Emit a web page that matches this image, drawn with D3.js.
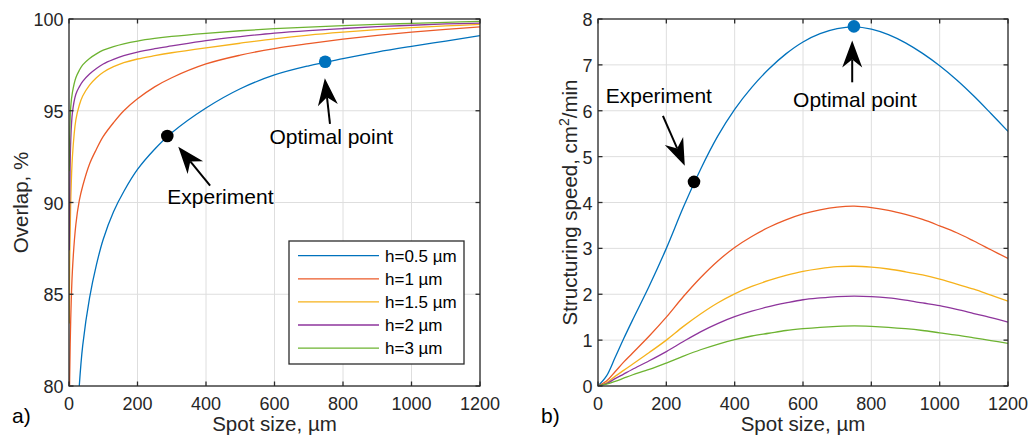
<!DOCTYPE html>
<html><head><meta charset="utf-8">
<script src="https://cdn.jsdelivr.net/npm/d3@7"></script>
<style>
body{margin:0;background:#fff}
svg{display:block}
text{font-family:"Liberation Sans",Arial,Helvetica,sans-serif}
</style>
</head><body>
<svg id="chart" width="1032" height="439"></svg>
<script>
// ---------------- DATA ----------------
const seriesNames = ["h=0.5 µm", "h=1 µm", "h=1.5 µm", "h=2 µm", "h=3 µm"];
const seriesColors = ["#0072BD", "#EB5A28", "#F6B21B", "#8E359C", "#6DB331"];

// Panel a) Overlap, %
const spotA = [1, 2, 5, 10, 20, 30, 40, 60, 80, 100, 130, 160, 200, 250, 300, 400, 500, 600, 700, 800, 900, 1000, 1100, 1200];
const overlapH05 = [null, null, null, null, null, 80.0, 82.2, 84.8, 86.6, 88.0, 89.5, 90.6, 91.8, 92.9, 93.8, 95.15, 96.2, 96.95, 97.45, 97.84, 98.2, 98.51, 98.8, 99.09];
const overlapH1  = [78.5, 80.5, 83.6, 86.3, 88.8, 90.1, 90.9, 92.1, 92.9, 93.6, 94.35, 95.0, 95.65, 96.3, 96.8, 97.55, 98.03, 98.39, 98.66, 98.9, 99.11, 99.29, 99.44, 99.57];
const overlapH15 = [83.4, 86.8, 90.0, 92.5, 94.5, 95.3, 95.8, 96.4, 96.8, 97.1, 97.4, 97.62, 97.82, 98.0, 98.16, 98.43, 98.68, 98.92, 99.12, 99.28, 99.42, 99.53, 99.62, 99.71];
const overlapH2  = [87.4, 90.0, 93.3, 94.9, 95.9, 96.3, 96.6, 97.0, 97.3, 97.55, 97.8, 98.0, 98.2, 98.38, 98.53, 98.82, 99.04, 99.23, 99.37, 99.48, 99.58, 99.66, 99.73, 99.78];
const overlapH3  = [91.7, 93.5, 95.2, 96.0, 96.8, 97.2, 97.5, 97.85, 98.1, 98.3, 98.5, 98.65, 98.8, 98.94, 99.05, 99.22, 99.36, 99.47, 99.56, 99.64, 99.71, 99.76, 99.82, 99.87];

// Panel b) Structuring speed, cm2/min
const spotB = [0, 25, 50, 75, 100, 150, 200, 250, 300, 350, 400, 450, 500, 550, 600, 650, 700, 750, 800, 850, 900, 950, 1000, 1050, 1100, 1150, 1200];
const speedH05 = [0, 0.22, 0.62, 1.03, 1.42, 2.18, 3.0, 3.9, 4.72, 5.44, 6.03, 6.51, 6.91, 7.24, 7.5, 7.68, 7.79, 7.83, 7.78, 7.66, 7.48, 7.25, 6.98, 6.67, 6.32, 5.94, 5.55];
const speedH1  = [0, 0.11, 0.31, 0.52, 0.71, 1.09, 1.5, 1.95, 2.36, 2.72, 3.02, 3.26, 3.46, 3.62, 3.75, 3.84, 3.9, 3.92, 3.89, 3.83, 3.74, 3.63, 3.49, 3.34, 3.16, 2.97, 2.78];
const speedH15 = [0, 0.07, 0.21, 0.34, 0.47, 0.73, 1.0, 1.3, 1.57, 1.81, 2.01, 2.17, 2.3, 2.41, 2.5, 2.56, 2.6, 2.61, 2.59, 2.55, 2.49, 2.42, 2.33, 2.22, 2.11, 1.98, 1.85];
const speedH2  = [0, 0.05, 0.16, 0.26, 0.36, 0.55, 0.75, 0.97, 1.18, 1.36, 1.51, 1.63, 1.73, 1.81, 1.88, 1.92, 1.95, 1.96, 1.95, 1.92, 1.87, 1.81, 1.75, 1.67, 1.58, 1.49, 1.39];
const speedH3  = [0, 0.04, 0.1, 0.17, 0.24, 0.36, 0.5, 0.65, 0.79, 0.91, 1.01, 1.09, 1.15, 1.21, 1.25, 1.28, 1.3, 1.31, 1.3, 1.28, 1.25, 1.21, 1.16, 1.11, 1.05, 0.99, 0.93];

// Tick labels
const xTicks = [0, 200, 400, 600, 800, 1000, 1200];
const yTicksA = [80, 85, 90, 95, 100];
const yTicksB = [0, 1, 2, 3, 4, 5, 6, 7, 8];

// Highlighted points [spot, value]
const experimentA = [287, 93.62];
const optimalA = [748, 97.67];
const experimentB = [281, 4.45];
const optimalB = [749, 7.84];

// Annotations: text, text anchor point [spot, value], arrow tail [spot, value], arrow tip [spot, value]
const annotationsA = [
  {text: "Optimal point", at: [766, 93.19], tail: [762, 94.28], tip: [747, 96.77]},
  {text: "Experiment", at: [442, 89.92], tail: [412, 90.92], tip: [319, 93.04]}
];
const annotationsB = [
  {text: "Optimal point", at: [752, 6.08], tail: [744, 6.62], tip: [744, 7.53]},
  {text: "Experiment", at: [178, 6.17], tail: [190, 5.89], tip: [254, 4.80]}
];

// ---------------- DRAW ----------------
const svg = d3.select("#chart");
svg.append("rect").attr("width", 1032).attr("height", 439).attr("fill", "#fff");

function drawPanel(cfg) {
  const x = d3.scaleLinear().domain([0, 1200]).range([cfg.left, cfg.right]);
  const y = d3.scaleLinear().domain(cfg.yDomain).range([cfg.bottom, cfg.top]);
  const g = svg.append("g");
  const clipId = "clip" + cfg.id;
  svg.append("defs").append("clipPath").attr("id", clipId)
    .append("rect").attr("x", cfg.left).attr("y", cfg.top)
    .attr("width", cfg.right - cfg.left).attr("height", cfg.bottom - cfg.top);

  // grid
  g.append("g").selectAll("line").data(xTicks).join("line")
    .attr("x1", d => x(d)).attr("x2", d => x(d))
    .attr("y1", cfg.top).attr("y2", cfg.bottom)
    .attr("stroke", "#dedede").attr("stroke-width", 1);
  g.append("g").selectAll("line").data(cfg.yTicks).join("line")
    .attr("y1", d => y(d)).attr("y2", d => y(d))
    .attr("x1", cfg.left).attr("x2", cfg.right)
    .attr("stroke", "#dedede").attr("stroke-width", 1);

  // lines
  const line = d3.line()
    .defined(d => d[1] !== null)
    .x(d => x(d[0])).y(d => y(d[1]))
    .curve(d3.curveCatmullRom.alpha(0.5));
  const lg = g.append("g").attr("clip-path", `url(#${clipId})`);
  cfg.series.forEach((vals, i) => {
    lg.append("path")
      .datum(cfg.spot.map((s, j) => [s, vals[j]]))
      .attr("d", line)
      .attr("fill", "none")
      .attr("stroke", seriesColors[i])
      .attr("stroke-width", 1.3);
  });

  // frame
  g.append("rect").attr("x", cfg.left).attr("y", cfg.top)
    .attr("width", cfg.right - cfg.left).attr("height", cfg.bottom - cfg.top)
    .attr("fill", "none").attr("stroke", "#2b2b2b").attr("stroke-width", 1.3);

  // inward ticks
  const tl = 4.5;
  const tk = g.append("g").attr("stroke", "#2b2b2b").attr("stroke-width", 1.3);
  xTicks.forEach(d => {
    tk.append("line").attr("x1", x(d)).attr("x2", x(d)).attr("y1", cfg.bottom).attr("y2", cfg.bottom - tl);
    tk.append("line").attr("x1", x(d)).attr("x2", x(d)).attr("y1", cfg.top).attr("y2", cfg.top + tl);
  });
  cfg.yTicks.forEach(d => {
    tk.append("line").attr("y1", y(d)).attr("y2", y(d)).attr("x1", cfg.left).attr("x2", cfg.left + tl);
    tk.append("line").attr("y1", y(d)).attr("y2", y(d)).attr("x1", cfg.right).attr("x2", cfg.right - tl);
  });

  // tick labels
  g.append("g").selectAll("text").data(xTicks).join("text")
    .attr("x", d => x(d)).attr("y", cfg.bottom + 23.5)
    .attr("text-anchor", "middle").attr("font-size", 18).attr("fill", "#262626")
    .text(d => d);
  g.append("g").selectAll("text").data(cfg.yTicks).join("text")
    .attr("x", cfg.left - 5.5).attr("y", d => y(d) + 7)
    .attr("text-anchor", "end").attr("font-size", 18).attr("fill", "#262626")
    .text(d => d);

  // axis labels
  g.append("text")
    .attr("x", (cfg.left + cfg.right) / 2).attr("y", cfg.bottom + 45)
    .attr("text-anchor", "middle").attr("font-size", 20.5).attr("fill", "#262626")
    .text("Spot size, µm");
  const yl = g.append("text")
    .attr("transform", `translate(${cfg.yLabelX},${(cfg.top + cfg.bottom) / 2}) rotate(-90)`)
    .attr("text-anchor", "middle").attr("font-size", 20.5).attr("fill", "#262626");
  cfg.yLabel(yl);

  // panel letter
  g.append("text").attr("x", cfg.letterX).attr("y", 423)
    .attr("font-size", 21).attr("fill", "#000").text(cfg.letter);

  // points
  g.append("circle").attr("cx", x(cfg.experiment[0])).attr("cy", y(cfg.experiment[1]))
    .attr("r", 6.3).attr("fill", "#000");
  g.append("circle").attr("cx", x(cfg.optimal[0])).attr("cy", y(cfg.optimal[1]))
    .attr("r", 6.3).attr("fill", "#0072BD");

  // annotations
  cfg.annotations.forEach(a => {
    const tx = x(a.tip[0]), ty = y(a.tip[1]);
    const sx = x(a.tail[0]), sy = y(a.tail[1]);
    const len = Math.hypot(tx - sx, ty - sy);
    const ux = (tx - sx) / len, uy = (ty - sy) / len;
    const nx = -uy, ny = ux;
    const L = 27, W = 10, N = 8;
    g.append("line").attr("x1", sx).attr("y1", sy)
      .attr("x2", tx - ux * (L - N)).attr("y2", ty - uy * (L - N))
      .attr("stroke", "#000").attr("stroke-width", 2);
    const pts = [
      [tx, ty],
      [tx - ux * L + nx * W, ty - uy * L + ny * W],
      [tx - ux * (L - N), ty - uy * (L - N)],
      [tx - ux * L - nx * W, ty - uy * L - ny * W]
    ];
    g.append("polygon").attr("points", pts.map(p => p.join(",")).join(" ")).attr("fill", "#000");
    g.append("text").attr("x", x(a.at[0])).attr("y", y(a.at[1]))
      .attr("text-anchor", "middle").attr("font-size", 21).attr("fill", "#000")
      .text(a.text);
  });
  return {x, y, g};
}

drawPanel({
  id: "A", left: 69, right: 480, top: 19, bottom: 386,
  yDomain: [80, 100], yTicks: yTicksA, spot: spotA,
  series: [overlapH05, overlapH1, overlapH15, overlapH2, overlapH3],
  yLabelX: 28, letter: "a)", letterX: 12,
  yLabel: t => t.text("Overlap, %"),
  experiment: experimentA, optimal: optimalA, annotations: annotationsA
});

drawPanel({
  id: "B", left: 598, right: 1008, top: 19, bottom: 386,
  yDomain: [0, 8], yTicks: yTicksB, spot: spotB,
  series: [speedH05, speedH1, speedH15, speedH2, speedH3],
  yLabelX: 577, letter: "b)", letterX: 541,
  yLabel: t => {
    t.append("tspan").text("Structuring speed, cm");
    t.append("tspan").attr("font-size", 14).attr("dy", -8).text("2");
    t.append("tspan").attr("dy", 8).text("/min");
  },
  experiment: experimentB, optimal: optimalB, annotations: annotationsB
});

// legend (panel a)
const lgX = 289, lgY = 241, lgW = 175, lgH = 123;
const leg = svg.append("g");
leg.append("rect").attr("x", lgX).attr("y", lgY).attr("width", lgW).attr("height", lgH)
  .attr("fill", "#fff").attr("stroke", "#2b2b2b").attr("stroke-width", 1.3);
const rows = leg.selectAll("g.row").data(seriesNames).join("g").attr("class", "row")
  .attr("transform", (d, i) => `translate(0,${lgY + 14.7 + i * 23.1})`);
rows.append("line").attr("x1", lgX + 9).attr("x2", lgX + 90).attr("y1", 0).attr("y2", 0)
  .attr("stroke", (d, i) => seriesColors[i]).attr("stroke-width", 1.3);
rows.append("text").attr("x", lgX + 96).attr("y", 6).attr("font-size", 17).attr("fill", "#000")
  .text(d => d);
</script>
</body></html>
